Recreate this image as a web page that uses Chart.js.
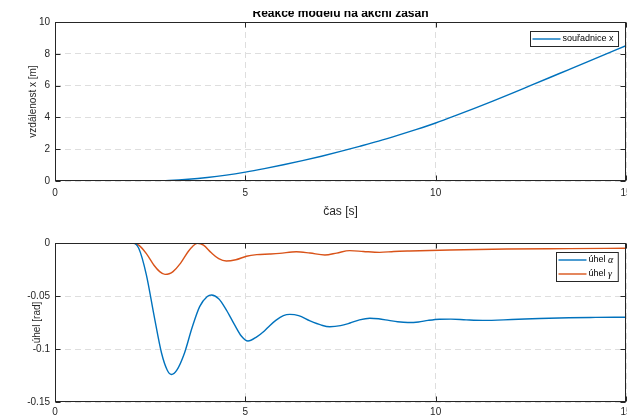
<!DOCTYPE html>
<html>
<head>
<meta charset="utf-8">
<script src="https://cdn.jsdelivr.net/npm/chart.js@4.4.1/dist/chart.umd.min.js"></script>
<style>
    body { margin: 0; background: #fff; width: 627px; height: 420px; overflow: hidden; position: relative; }
    canvas { position: absolute; left: 0; }
    #distance-chart { top: 11px; }
    #angle-chart { top: 225px; }
</style>
</head>
<body>
<canvas id="distance-chart" width="627" height="214" style="width:627px;height:214px"></canvas>
<canvas id="angle-chart" width="627" height="195" style="width:627px;height:195px"></canvas>
<script>
// souřadnice x (m) v čase
const xTime = [0, 1, 2, 2.5, 3, 3.5, 4, 4.5, 5, 5.5, 6, 6.5, 7, 7.5, 8, 8.5, 9, 9.5, 10, 10.5, 11, 11.5, 12, 12.5, 13, 13.5, 14, 14.5, 15];
const xValues = [0, 0, 0, 0.01, 0.04, 0.11, 0.22, 0.37, 0.56, 0.78, 1.02, 1.28, 1.56, 1.86, 2.18, 2.51, 2.87, 3.25, 3.65, 4.09, 4.55, 5.02, 5.51, 6.01, 6.51, 7.01, 7.51, 8.01, 8.51];

// úhel alfa (rad)
const alphaTime = [0, 2.05, 2.2, 2.4, 2.6, 2.8, 2.95, 3.06, 3.2, 3.4, 3.6, 3.8, 4.0, 4.11, 4.3, 4.5, 4.7, 4.9, 5.07, 5.3, 5.5, 5.64, 5.8, 6.0, 6.17, 6.4, 6.7, 7.0, 7.22, 7.5, 7.75, 8.0, 8.27, 8.5, 8.77, 9.0, 9.27, 9.55, 9.8, 10.1, 10.4, 10.8, 11.24, 12.0, 12.73, 13.5, 14.2, 15];
const alphaValues = [0, 0, -0.005, -0.03, -0.068, -0.104, -0.12, -0.124, -0.12, -0.104, -0.08, -0.06, -0.0505, -0.049, -0.0525, -0.063, -0.076, -0.088, -0.0925, -0.0885, -0.083, -0.078, -0.073, -0.0685, -0.0673, -0.0685, -0.0735, -0.0775, -0.079, -0.078, -0.0755, -0.0725, -0.071, -0.0715, -0.073, -0.0743, -0.075, -0.0745, -0.073, -0.0719, -0.0718, -0.0725, -0.073, -0.0722, -0.0712, -0.0705, -0.0702, -0.070];

// úhel gama (rad)
const gammaTime = [0, 2.0, 2.2, 2.4, 2.6, 2.75, 2.89, 3.0, 3.1, 3.3, 3.5, 3.62, 3.74, 3.9, 4.1, 4.3, 4.5, 4.75, 5.03, 5.3, 5.64, 5.9, 6.34, 6.7, 7.09, 7.4, 7.74, 8.1, 8.53, 8.9, 9.32, 10.37, 11.86, 13.5, 15];
const gammaValues = [0, 0, -0.002, -0.01, -0.021, -0.027, -0.0296, -0.029, -0.027, -0.019, -0.008, -0.003, -0.0003, -0.002, -0.009, -0.0148, -0.017, -0.0158, -0.0125, -0.011, -0.0104, -0.0098, -0.0082, -0.0095, -0.0113, -0.0095, -0.0072, -0.008, -0.0088, -0.008, -0.0075, -0.0066, -0.0057, -0.0053, -0.005];

// osy
const timeTicks = [0, 5, 10, 15];
const timeTickLabels = ['0', '5', '10', '15'];
const distanceTicks = [0, 2, 4, 6, 8, 10];
const distanceTickLabels = ['0', '2', '4', '6', '8', '10'];
const angleTicks = [-0.15, -0.1, -0.05, 0];
const angleTickLabels = ['-0.15', '-0.1', '-0.05', '0'];

const axisColor = '#262626';
const gridColor = '#dedede';
const blue = '#0072BD';
const orange = '#D95319';
const fontFamily = '"Liberation Sans", Arial, Helvetica, sans-serif';

function toPoints(xs, ys) {
    return xs.map((t, i) => ({ x: t, y: ys[i] }));
}

// rámeček kolem grafu + tick marks dovnitř (jako v MATLABu)
const matlabBox = {
    id: 'matlabBox',
    afterDatasetsDraw(chart) {
        const { ctx, chartArea: a, scales } = chart;
        const left = Math.round(a.left) + 0.5, right = Math.round(a.right) - 0.5;
        const top = Math.round(a.top) + 0.5, bottom = Math.round(a.bottom) - 0.5;
        ctx.save();
        ctx.strokeStyle = axisColor;
        ctx.lineWidth = 1;
        ctx.beginPath();
        scales.x.ticks.forEach(t => {
            const p = Math.round(scales.x.getPixelForValue(t.value)) + 0.5;
            ctx.moveTo(p, bottom); ctx.lineTo(p, bottom - 5);
            ctx.moveTo(p, top); ctx.lineTo(p, top + 5);
        });
        scales.y.ticks.forEach(t => {
            const p = Math.round(scales.y.getPixelForValue(t.value)) + 0.5;
            ctx.moveTo(left, p); ctx.lineTo(left + 5, p);
            ctx.moveTo(right, p); ctx.lineTo(right - 5, p);
        });
        ctx.stroke();
        ctx.strokeRect(left, top, right - left, bottom - top);
        ctx.restore();
    }
};

// legenda v rámečku vpravo nahoře
const boxLegend = {
    id: 'boxLegend',
    afterDraw(chart) {
        const { ctx, chartArea: a } = chart;
        const sets = chart.data.datasets;
        const normal = '9px ' + fontFamily;
        const greek = 'italic 10px "Liberation Serif", "Times New Roman", serif';
        const isGreek = ch => /[\u0370-\u03FF]/.test(ch);
        ctx.save();
        const widthOf = label => {
            let w = 0;
            for (const ch of label) {
                ctx.font = isGreek(ch) ? greek : normal;
                w += ctx.measureText(ch).width;
            }
            return w;
        };
        const textW = Math.max(...sets.map(d => widthOf(d.label)));
        const w = 2 + 28 + 2 + textW + 5;
        const h = sets.length * 14 + 1;
        const x = Math.round(a.right - 8 - w) + 0.5;
        const y = Math.round(a.top + 9) + 0.5;
        ctx.fillStyle = '#fff';
        ctx.fillRect(x, y, w, h);
        ctx.strokeStyle = axisColor;
        ctx.lineWidth = 1;
        ctx.strokeRect(x, y, w, h);
        sets.forEach((d, i) => {
            const cy = y + 7.5 + i * 14;
            ctx.strokeStyle = d.borderColor;
            ctx.lineWidth = 1.4;
            ctx.beginPath();
            ctx.moveTo(x + 2, cy);
            ctx.lineTo(x + 30, cy);
            ctx.stroke();
            ctx.fillStyle = '#000';
            ctx.textBaseline = 'middle';
            let tx = x + 32;
            for (const ch of d.label) {
                ctx.font = isGreek(ch) ? greek : normal;
                ctx.fillText(ch, tx, cy);
                tx += ctx.measureText(ch).width;
            }
        });
        ctx.restore();
    }
};

// titul nad horním grafem (nahoře oříznutý)
const topTitle = {
    id: 'topTitle',
    afterDraw(chart, args, opts) {
        if (!opts.text) return;
        const { ctx, chartArea: a } = chart;
        ctx.save();
        ctx.font = 'bold 12px ' + fontFamily;
        ctx.fillStyle = '#000';
        ctx.textAlign = 'center';
        ctx.textBaseline = 'alphabetic';
        ctx.fillText(opts.text, (a.left + a.right) / 2, a.top - 5);
        ctx.restore();
    }
};

function fixedTicks(values, labels) {
    return {
        afterBuildTicks: scale => { scale.ticks = values.map(v => ({ value: v })); },
        callback: (value, index) => labels[index]
    };
}

function makeChart(id, datasets, opts) {
    const xt = fixedTicks(timeTicks, timeTickLabels);
    const yt = fixedTicks(opts.yTicks, opts.yTickLabels);
    return new Chart(document.getElementById(id), {
        type: 'line',
        data: { datasets },
        options: {
            responsive: false,
            animation: false,
            events: [],
            layout: { padding: { top: opts.padTop, right: 1, left: 0, bottom: 0 } },
            elements: { point: { radius: 0 }, line: { borderWidth: 1.4, cubicInterpolationMode: 'monotone' } },
            scales: {
                x: {
                    type: 'linear',
                    min: 0,
                    max: 15,
                    afterBuildTicks: xt.afterBuildTicks,
                    afterFit: scale => {
                        scale.height = opts.xHeight;
                        scale.paddingLeft = 0; scale.paddingRight = 0;
                    },
                    grid: { color: gridColor, lineWidth: 1, drawTicks: false },
                    border: { display: false, dash: [6, 4] },
                    ticks: {
                        callback: xt.callback,
                        padding: opts.xPad,
                        maxRotation: 0,
                        autoSkip: false,
                        color: axisColor,
                        font: { family: fontFamily, size: 10 }
                    },
                    title: {
                        display: !!opts.xTitle,
                        text: opts.xTitle,
                        color: axisColor,
                        padding: { top: 0, bottom: 6 },
                        font: { family: fontFamily, size: 12 }
                    }
                },
                y: {
                    type: 'linear',
                    min: opts.yMin,
                    max: opts.yMax,
                    afterBuildTicks: yt.afterBuildTicks,
                    afterFit: scale => {
                        scale.width = 55;
                        scale.paddingTop = 0; scale.paddingBottom = 0;
                    },
                    grid: { color: gridColor, lineWidth: 1, drawTicks: false },
                    border: { display: false, dash: [6, 4] },
                    ticks: {
                        callback: yt.callback,
                        padding: 5,
                        autoSkip: false,
                        color: axisColor,
                        font: { family: fontFamily, size: 10 }
                    },
                    title: {
                        display: true,
                        text: opts.yTitle,
                        color: axisColor,
                        padding: { top: opts.yTitlePad, bottom: 0 },
                        font: { family: fontFamily, size: 10 }
                    }
                }
            },
            plugins: {
                legend: { display: false },
                tooltip: { enabled: false },
                topTitle: { text: opts.title || '' }
            }
        },
        plugins: [matlabBox, boxLegend, topTitle]
    });
}

makeChart('distance-chart', [{
    label: 'souřadnice x',
    data: toPoints(xTime, xValues),
    borderColor: blue
}], {
    title: 'Reakce modelu na akční zásah',
    padTop: 11,
    xHeight: 44,
    xPad: 6,
    xTitle: 'čas [s]',
    yTitle: 'vzdálenost x [m]',
    yTitlePad: 27,
    yMin: 0,
    yMax: 10,
    yTicks: distanceTicks,
    yTickLabels: distanceTickLabels
});

makeChart('angle-chart', [{
    label: 'úhel α',
    data: toPoints(alphaTime, alphaValues),
    borderColor: blue
}, {
    label: 'úhel γ',
    data: toPoints(gammaTime, gammaValues),
    borderColor: orange
}], {
    padTop: 18,
    xHeight: 18,
    xPad: 4,
    xTitle: '',
    yTitle: 'úhel [rad]',
    yTitlePad: 31,
    yMin: -0.15,
    yMax: 0,
    yTicks: angleTicks,
    yTickLabels: angleTickLabels
});
</script>
</body>
</html>
